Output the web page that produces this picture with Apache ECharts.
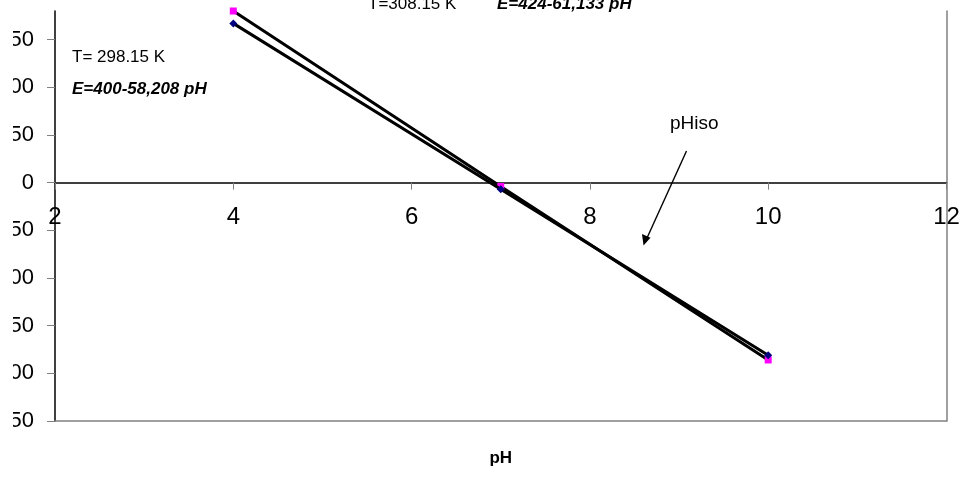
<!DOCTYPE html>
<html><head><meta charset="utf-8">
<script src="https://cdn.jsdelivr.net/npm/echarts@6/dist/echarts.min.js"></script>
<style>html,body{margin:0;padding:0;background:#fff}#c{width:964px;height:493px}</style>
</head><body><div id="c"></div>
<script>
const pH = [4, 7, 10];
const E298 = [167, -7, -181];
const E308 = [180, -4, -186];
const xTicks = [2, 4, 6, 8, 10, 12];
const yTicks = [-250, -200, -150, -100, -50, 0, 50, 100, 150];
const yMin = -250, yMax = 180;
const FONT = "'Liberation Sans', Arial, sans-serif";

const chart = echarts.init(document.getElementById('c'), null, {renderer: 'canvas'});
const W = 964, H = 493;
const gridL = 55, gridR = 17.5, gridT = 11, gridB = 72;
const plotH = H - gridT - gridB;
const zeroOffset = -plotH * (0 - yMin) / (yMax - yMin);

chart.setOption({
  animation: false,
  backgroundColor: '#fff',
  grid: {left: gridL, right: gridR, top: gridT, bottom: gridB, containLabel: false, outerBoundsMode: 'none'},
  xAxis: [{
    type: 'value', min: 2, max: 12, interval: 2, position: 'bottom', offset: zeroOffset,
    axisLine: {onZero: false, lineStyle: {color: '#000', width: 1.5}},
    axisTick: {show: true, length: 7, lineStyle: {color: '#808080', width: 1}, customValues: xTicks},
    axisLabel: {fontSize: 24, color: '#000', fontFamily: FONT, margin: 23, customValues: xTicks},
    splitLine: {show: false}
  }, {
    type: 'value', min: 2, max: 12, position: 'bottom',
    axisLine: {onZero: false, lineStyle: {color: '#808080', width: 1.5}},
    axisTick: {show: false}, axisLabel: {show: false}, splitLine: {show: false},
    name: 'pH', nameLocation: 'middle', nameGap: 29,
    nameTextStyle: {fontSize: 17, fontWeight: 'bold', color: '#000', fontFamily: FONT}
  }],
  yAxis: [{
    type: 'value', min: yMin, max: yMax, interval: 50,
    axisLine: {show: true, onZero: false, lineStyle: {color: '#000', width: 1.5}},
    axisTick: {show: true, length: 8, lineStyle: {color: '#808080', width: 1}, customValues: yTicks},
    axisLabel: {fontSize: 22, color: '#000', fontFamily: FONT, margin: 21, customValues: yTicks},
    splitLine: {show: false}
  }, {
    type: 'value', min: yMin, max: yMax, position: 'right',
    axisLine: {show: true, onZero: false, lineStyle: {color: '#808080', width: 1.5}},
    axisTick: {show: false}, axisLabel: {show: false}, splitLine: {show: false}
  }],
  series: [{
    name: 'T=298.15 K', type: 'line', xAxisIndex: 0, yAxisIndex: 0,
    data: pH.map((x, i) => [x, E298[i]]),
    symbol: 'diamond', symbolSize: 8,
    itemStyle: {color: '#000080'},
    lineStyle: {color: '#000', width: 3},
    z: 3
  }, {
    name: 'T=308.15 K', type: 'line', xAxisIndex: 0, yAxisIndex: 0,
    data: pH.map((x, i) => [x, E308[i]]),
    symbol: 'rect', symbolSize: 7,
    itemStyle: {color: '#FF00FF'},
    lineStyle: {color: '#000', width: 3},
    z: 2
  }],
  graphic: [
    {type: 'rect', shape: {x: 0, y: 0, width: 13, height: H}, style: {fill: '#fff'}, z: 100},
    {type: 'text', x: 72, y: 57, style: {text: 'T= 298.15 K', font: '17px ' + FONT, fill: '#000', verticalAlign: 'middle'}, z: 50},
    {type: 'text', x: 72, y: 89.5, style: {text: 'E=400-58,208 pH', font: 'italic bold 17px ' + FONT, fill: '#000', verticalAlign: 'middle'}, z: 50},
    {type: 'text', x: 368, y: 4, style: {text: 'T=308.15 K', font: '17px ' + FONT, fill: '#000', verticalAlign: 'middle'}, z: 50},
    {type: 'text', x: 497, y: 4, style: {text: 'E=424-61,133 pH', font: 'italic bold 17px ' + FONT, fill: '#000', verticalAlign: 'middle'}, z: 50},
    {type: 'text', x: 670, y: 124, style: {text: 'pHiso', font: '19px ' + FONT, fill: '#000', verticalAlign: 'middle'}, z: 50},
    {type: 'line', shape: {x1: 686.5, y1: 151, x2: 647, y2: 238}, style: {stroke: '#000', lineWidth: 1.4}, z: 50},
    {type: 'polygon', shape: {points: [[643.5, 245.5], [642, 234], [650.5, 237.8]]}, style: {fill: '#000'}, z: 50}
  ]
});
</script></body></html>
